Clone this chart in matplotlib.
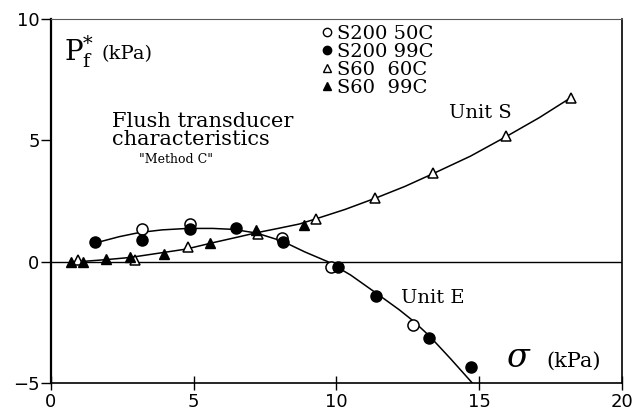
import matplotlib.pyplot as plt
from matplotlib.lines import Line2D

# S200 50C (open circles)
s200_50_x = [3.2, 4.86, 8.1, 9.8, 12.7]
s200_50_y = [1.35, 1.56, 0.97, -0.2, -2.6]
# S200 99C (filled circles)
s200_99_x = [1.56, 3.2, 4.86, 6.5, 8.15, 10.05, 11.4, 13.25, 14.7]
s200_99_y = [0.8, 0.9, 1.35, 1.4, 0.8, -0.2, -1.4, -3.15, -4.36]
# S60 60C (open triangles)
s60_60_x = [0.95, 2.94, 4.8, 7.25, 9.3, 11.36, 13.4, 15.94, 18.2]
s60_60_y = [0.05, 0.05, 0.6, 1.15, 1.75, 2.63, 3.66, 5.18, 6.75]
# S60 99C (filled triangles)
s60_99_x = [0.7, 1.13, 1.92, 2.76, 3.96, 5.58, 7.19, 8.88]
s60_99_y = [0.0, 0.0, 0.1, 0.2, 0.33, 0.78, 1.3, 1.52]

# hand-drawn fit curves
unit_e_x = [1.5, 2.4, 3.1, 3.9, 4.8, 5.67, 6.4, 7.2, 8.1, 8.9, 9.7, 10.5, 11.4, 12.2, 12.7, 13.25, 14.0, 14.76]
unit_e_y = [0.75, 1.03, 1.2, 1.31, 1.37, 1.37, 1.33, 1.18, 0.85, 0.4, 0.0, -0.55, -1.3, -1.98, -2.45, -3.05, -4.0, -5.0]
unit_s_x = [0.7, 1.0, 1.9, 2.76, 3.9, 4.75, 5.67, 6.5, 7.2, 8.0, 8.7, 9.3, 10.3, 11.4, 12.4, 13.43, 14.7, 15.94, 17.1, 18.2]
unit_s_y = [0.0, 0.0, 0.08, 0.17, 0.37, 0.52, 0.78, 1.0, 1.19, 1.38, 1.55, 1.77, 2.15, 2.63, 3.1, 3.65, 4.35, 5.15, 5.93, 6.75]

legend_labels = ['S200 50C', 'S200 99C', 'S60  60C', 'S60  99C']

fig = plt.figure(figsize=(6.34, 4.17), dpi=100)
ax = fig.add_axes([0.080, 0.0815, 0.901, 0.873])

ax.axhline(0, color='black', lw=1.0)
ax.plot(unit_e_x, unit_e_y, color='black', lw=1.1, solid_joinstyle='round')
ax.plot(unit_s_x, unit_s_y, color='black', lw=1.1, solid_joinstyle='round')

ax.plot(s200_50_x, s200_50_y, 'o', ms=8, mfc='white', mec='black', mew=1.1)
ax.plot(s200_99_x, s200_99_y, 'o', ms=8, mfc='black', mec='black')
ax.plot(s60_60_x, s60_60_y, '^', ms=6.5, mfc='white', mec='black', mew=1.1)
ax.plot(s60_99_x, s60_99_y, '^', ms=6.5, mfc='black', mec='black')

ax.set_xlim(0, 20)
ax.set_ylim(-5, 10)
ax.set_xticks([0, 5, 10, 15, 20])
ax.set_yticks([-5, 0, 5, 10])
ax.set_yticklabels(['\u22125', '0', '5', '10'])
ax.tick_params(axis='x', direction='inout', length=10, width=1, labelsize=13, pad=2)
ax.tick_params(axis='y', direction='out', length=7, width=1, labelsize=13, pad=1)

ax.spines['left'].set_linewidth(1.6)
ax.spines['bottom'].set_linewidth(1.2)
ax.spines['right'].set_linewidth(1.2)
ax.spines['top'].set_linewidth(0.8)
ax.spines['top'].set_color('0.35')

serif = 'DejaVu Serif'
ax.text(0.45, 8.3, r'$\mathrm{P}_\mathrm{f}^{*}$', fontsize=20, family=serif, va='baseline',
        math_fontfamily='dejavuserif')
ax.text(1.78, 8.35, '(kPa)', fontsize=14, family=serif, va='baseline')
ax.text(2.15, 4.81, 'Flush transducer\ncharacteristics', fontsize=15, family=serif,
        va='baseline', linespacing=0.95)
ax.text(3.1, 4.07, '"Method C"', fontsize=9, family=serif, va='baseline')
ax.text(13.95, 5.93, 'Unit S', fontsize=14, family=serif, va='baseline')
ax.text(12.27, -1.69, 'Unit E', fontsize=14, family=serif, va='baseline')
ax.text(15.95, -4.32, r'$\sigma$', fontsize=24, family=serif, va='baseline',
        math_fontfamily='dejavuserif')
ax.text(17.35, -4.32, '(kPa)', fontsize=15, family=serif, va='baseline')

handles = [
    Line2D([], [], ls='none', marker='o', ms=6, mfc='white', mec='black'),
    Line2D([], [], ls='none', marker='o', ms=6, mfc='black', mec='black'),
    Line2D([], [], ls='none', marker='^', ms=5.5, mfc='white', mec='black'),
    Line2D([], [], ls='none', marker='^', ms=5.5, mfc='black', mec='black'),
]
ax.legend(handles, legend_labels, loc='upper left', bbox_to_anchor=(0.45, 1.02), frameon=False,
          handlelength=0.6, handletextpad=0.2, labelspacing=0.0, borderpad=0.2,
          prop={'family': serif, 'size': 14})

fig.savefig('out.png', dpi=100)
